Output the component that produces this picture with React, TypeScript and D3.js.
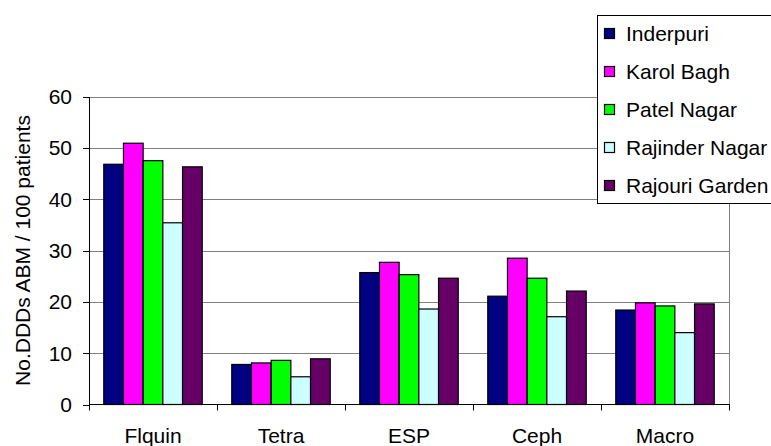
import React from "react";
import * as d3 from "d3";

const categories = ["Flquin", "Tetra", "ESP", "Ceph", "Macro"];
const seriesNames = ["Inderpuri", "Karol Bagh", "Patel Nagar", "Rajinder Nagar", "Rajouri Garden"];
const inderpuri = [46.8, 7.8, 25.7, 21.1, 18.4];
const karolBagh = [50.9, 8.1, 27.7, 28.5, 19.8];
const patelNagar = [47.5, 8.6, 25.3, 24.6, 19.2];
const rajinderNagar = [35.4, 5.4, 18.6, 17.1, 14.0];
const rajouriGarden = [46.3, 8.9, 24.6, 22.1, 19.6];
const yTicks = [0, 10, 20, 30, 40, 50, 60];
const colors = ["#000080", "#FF00FF", "#00FF00", "#CCFFFF", "#660066"];

const seriesValues = [inderpuri, karolBagh, patelNagar, rajinderNagar, rajouriGarden];

const W = 771;
const H = 446;
const left = 89;
const right = 729;
const top = 96.5;
const bottom = 404.5;
const font = "'Liberation Sans', Arial, sans-serif";
const fs = 21;

export default function App() {
  const x = d3.scaleBand<string>().domain(categories).range([left, right]).paddingInner(0).paddingOuter(0);
  const y = d3.scaleLinear().domain([0, 60]).range([bottom, top]);
  const groupW = x.bandwidth();
  // gap width 150% of a bar: 5 bars + 1.5 gap per category
  const barW = groupW / (seriesNames.length + 1.5);
  const inner = d3.scaleBand<number>()
    .domain(d3.range(seriesNames.length))
    .range([barW * 0.75, groupW - barW * 0.75]);

  const legendX = 597;
  const legendY = 15;
  const rowH = 38;

  return (
    <svg width={W} height={H} style={{ position: "absolute", left: 0, top: 0, background: "#fff" }} fontFamily={font}>
      <rect x={0} y={0} width={W} height={H} fill="#fff" />
      {/* gridlines */}
      {yTicks.slice(1).map((t) => (
        <line key={t} x1={left} x2={right} y1={Math.round(y(t)) + 0.5} y2={Math.round(y(t)) + 0.5} stroke="#808080" strokeWidth={1} />
      ))}
      {/* right border of plot area */}
      <line x1={right + 0.5} x2={right + 0.5} y1={Math.round(y(60)) + 0.5} y2={bottom} stroke="#808080" strokeWidth={1} />
      {/* bars */}
      {categories.map((c, ci) => (
        <g key={c} transform={`translate(${x(c)},0)`}>
          {seriesValues.map((vals, si) => (
            <rect
              key={si}
              x={inner(si)}
              y={y(vals[ci])}
              width={inner.bandwidth()}
              height={y(0) - y(vals[ci])}
              fill={colors[si]}
              stroke="#000"
              strokeWidth={1.2}
            />
          ))}
        </g>
      ))}
      {/* y axis */}
      <line x1={left + 0.5} x2={left + 0.5} y1={Math.round(y(60))} y2={bottom} stroke="#000" strokeWidth={1} />
      {yTicks.map((t) => (
        <g key={t}>
          <line x1={left - 6} x2={left} y1={Math.round(y(t)) + 0.5} y2={Math.round(y(t)) + 0.5} stroke="#000" />
          <text x={72} y={y(t)} dy="0.36em" textAnchor="end" fontSize={fs} fill="#000">{t}</text>
        </g>
      ))}
      {/* x axis */}
      <line x1={left} x2={right + 1} y1={bottom} y2={bottom} stroke="#000" strokeWidth={1} />
      {d3.range(categories.length + 1).map((i) => {
        const xx = Math.round(left + i * groupW) + 0.5;
        return <line key={i} x1={xx} x2={xx} y1={bottom} y2={bottom + 6} stroke="#000" />;
      })}
      {categories.map((c) => (
        <text key={c} x={(x(c) as number) + groupW / 2} y={443} textAnchor="middle" fontSize={fs} fill="#000">{c}</text>
      ))}
      {/* y axis title */}
      <text
        transform={`translate(30,${(top + bottom) / 2}) rotate(-90)`}
        textAnchor="middle"
        fontSize={fs}
        fill="#000"
      >
        No.DDDs ABM / 100 patients
      </text>
      {/* legend */}
      <rect x={legendX + 0.5} y={legendY + 0.5} width={200} height={188} fill="#fff" stroke="#000" strokeWidth={1} />
      {seriesNames.map((n, i) => (
        <g key={n} transform={`translate(${legendX + 7},${legendY + 13 + i * rowH})`}>
          <rect x={0.5} y={0.5} width={10} height={10} fill={colors[i]} stroke="#000" strokeWidth={1.2} />
          <text x={22} y={5.5} dy="0.36em" fontSize={fs} fill="#000">{n}</text>
        </g>
      ))}
    </svg>
  );
}
